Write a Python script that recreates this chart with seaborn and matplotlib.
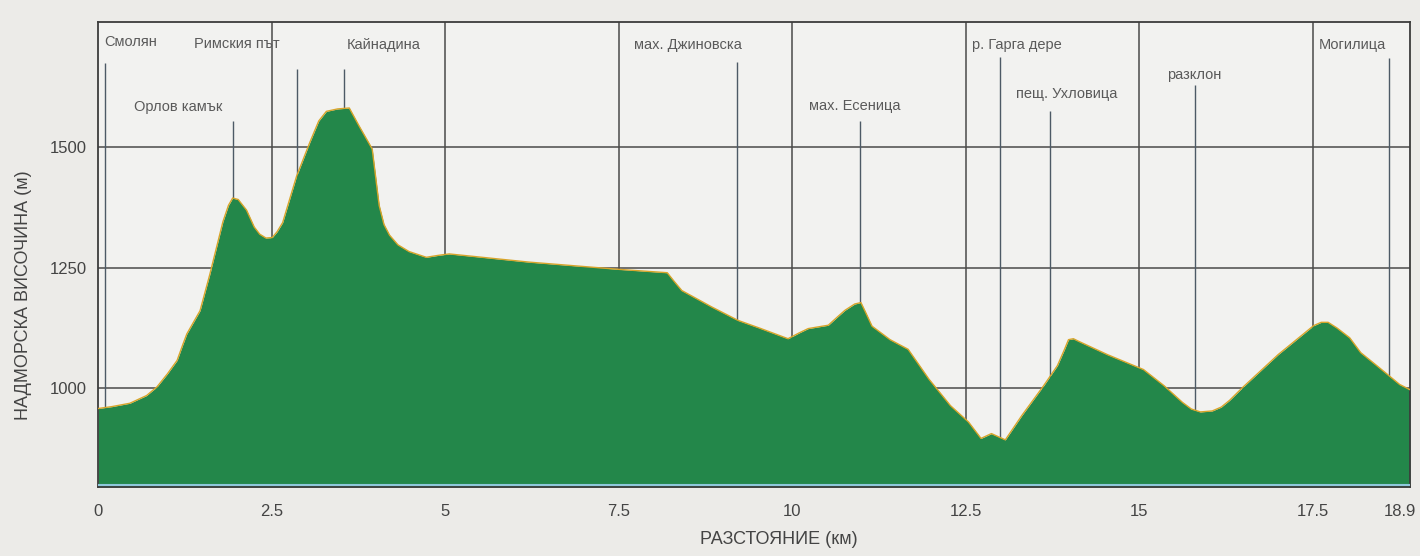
import pandas as pd
import seaborn as sns
import matplotlib.pyplot as plt
from matplotlib.transforms import ScaledTranslation

# profile
distance_km = [0.0, 0.20, 0.46, 0.70, 0.85, 1.00, 1.14, 1.22, 1.28, 1.47, 1.61, 1.80,
               1.88, 1.94, 2.02, 2.14, 2.25, 2.33, 2.42, 2.51, 2.58, 2.66, 2.86, 3.05,
               3.18, 3.29, 3.45, 3.62, 3.76, 3.95, 4.05, 4.12, 4.20, 4.32, 4.48, 4.73,
               4.90, 5.06, 6.21, 7.50, 8.20, 8.30, 8.41, 8.84, 9.22, 9.55, 9.94, 10.10,
               10.23, 10.52, 10.65, 10.76, 10.90, 10.99, 11.05, 11.15, 11.41, 11.67,
               11.97, 12.28, 12.54, 12.72, 12.87, 13.07, 13.31, 13.62, 13.82, 13.92,
               13.98, 14.05, 14.12, 14.54, 15.06, 15.36, 15.62, 15.75, 15.88, 16.05,
               16.18, 16.30, 16.49, 17.00, 17.51, 17.62, 17.72, 17.85, 18.03, 18.19,
               18.43, 18.75, 18.90]
elevation_m = [958, 962, 969, 985, 1003, 1030, 1058, 1090, 1113, 1161, 1236, 1346,
               1380, 1395, 1392, 1370, 1335, 1320, 1312, 1313, 1325, 1344, 1440, 1510,
               1555, 1575, 1580, 1582, 1545, 1497, 1380, 1340, 1318, 1298, 1284, 1272,
               1276, 1279, 1262, 1247, 1240, 1222, 1203, 1169, 1141, 1124, 1103, 1115,
               1124, 1131, 1148, 1162, 1175, 1178, 1160, 1129, 1101, 1081,
               1019, 964, 930, 896, 906, 893, 944, 1005, 1047, 1080,
               1101, 1103, 1098, 1070, 1039, 1005, 971, 957, 951, 953,
               961, 975, 1002, 1070, 1130, 1137, 1137, 1125, 1105, 1074,
               1046, 1008, 997]

# waypoints
place_names = ["Смолян", "Орлов камък", "Римския път", "Кайнадина", "мах. Джиновска",
               "мах. Есеница", "р. Гарга дере", "пещ. Ухловица", "разклон", "Могилица"]
place_km = [0.1, 1.95, 2.86, 3.55, 9.2, 10.98, 13.0, 13.72, 15.8, 18.6]

x_ticks = [0, 2.5, 5, 7.5, 10, 12.5, 15, 17.5, 18.9]
x_tick_labels = ["0", "2.5", "5", "7.5", "10", "12.5", "15", "17.5", "18.9"]
y_ticks = [1000, 1250, 1500]

# label layout (not data): text centre x, text centre y, top of the marker line
label_x = [0.47, 1.15, 2.0, 4.12, 8.5, 10.9, 13.24, 13.95, 15.79, 18.07]
label_y = [1719, 1585, 1714, 1713, 1712, 1587, 1712, 1612, 1650, 1713]
stem_top = [1676, 1555, 1663, 1662, 1677, 1556, 1687, 1576, 1629, 1686]

df = pd.DataFrame({"km": distance_km, "elev": elevation_m})

sns.set_theme(style="white")
plt.rcParams['font.family'] = ['Liberation Sans', 'DejaVu Sans']

fig = plt.figure(figsize=(14.2, 5.56), dpi=100, facecolor="#ecebe8")
ax = fig.add_axes([0.069, 0.124, 0.924, 0.836])
ax.set_facecolor("#f2f2f0")

ymin, ymax = 795, 1760
ax.set_xlim(0, 18.9)
ax.set_ylim(ymin, ymax)

# grid behind the profile
for y in y_ticks:
    ax.axhline(y, color="#4a4a4a", lw=1.1, zorder=1)
for x in x_ticks[1:-1]:
    ax.axvline(x, color="#4a4a4a", lw=1.1, zorder=1)

# marker stems, covered by the fill
ax.vlines(place_km, ymin, stem_top, color="#4d5a66", lw=1.0, zorder=1.5)

ax.fill_between(df["km"], ymin, df["elev"], color="#23874a", zorder=2, lw=0)
sns.lineplot(data=df, x="km", y="elev", ax=ax, color="#d8a52a", lw=1.0, zorder=3)
ax.axhline(ymin + 4, color="#8fc8dc", lw=1.5, zorder=3)

for name, lx, ly in zip(place_names, label_x, label_y):
    ax.text(lx, ly, name, ha="center", va="center", fontsize=10.5, color="#5a5a5a", zorder=4)

ax.set_xticks(x_ticks)
ax.set_xticklabels(x_tick_labels)
ax.set_yticks(y_ticks)
ax.tick_params(axis="both", length=0, labelsize=12, colors="#444444")
ax.tick_params(axis="x", pad=12)
ax.tick_params(axis="y", pad=8)
last = ax.get_xticklabels()[-1]
last.set_transform(last.get_transform() + ScaledTranslation(-10 / 100, 0, fig.dpi_scale_trans))

for side in ["left", "right", "top", "bottom"]:
    ax.spines[side].set_color("#3c3c3c")
    ax.spines[side].set_linewidth(1.3)

ax.set_xlabel("РАЗСТОЯНИЕ (км)", fontsize=13, color="#444444")
ax.set_ylabel("НАДМОРСКА ВИСОЧИНА (м)", fontsize=13, color="#444444")
ax.xaxis.set_label_coords(0.519, -0.095)
ax.yaxis.set_label_coords(-0.05, 0.413)

plt.savefig("out.png", dpi=100, facecolor=fig.get_facecolor())
